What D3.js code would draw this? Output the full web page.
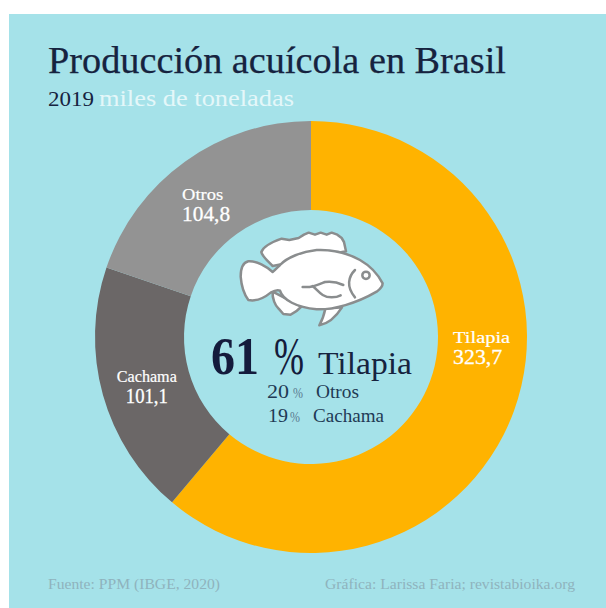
<!DOCTYPE html>
<html>
<head>
<meta charset="utf-8">
<script src="https://cdn.jsdelivr.net/npm/d3@7"></script>
<style>
  html, body { margin: 0; padding: 0; background: #fff; }
  svg { display: block; }
  text { font-family: "Liberation Serif", serif; }
</style>
</head>
<body>
<svg id="chart" width="606" height="608"></svg>
<script>
// Aquaculture output in Brazil, 2019 (thousand tonnes)
const categories = ["Tilapia", "Cachama", "Otros"];
const values = [323.7, 101.1, 104.8];
const valueLabels = ["323,7", "101,1", "104,8"];
const colors = ["#ffb300", "#6b6767", "#939393"];
const shareLabels = ["61 %", "20 %", "19 %"];

const width = 606, height = 608;
const cx = 311, cy = 337, outer = 216, inner = 127;
const ink = "#16233f", bg = "#a5e2e9", note = "#8fb3bd";

const svg = d3.select("#chart");
svg.append("rect").attr("x", 9).attr("y", 14)
  .attr("width", width - 9).attr("height", height - 14).attr("fill", bg);

// Helper: text stretched to a known width, since the headline face is a wide serif
function label(x, y, str, size, fill, opts = {}) {
  const t = svg.append("text").attr("x", x).attr("y", y).text(str)
    .attr("font-size", size).attr("fill", fill)
    .attr("text-anchor", opts.anchor || "start");
  if (opts.weight) t.attr("font-weight", opts.weight);
  if (opts.len) t.attr("textLength", opts.len).attr("lengthAdjust", "spacingAndGlyphs");
  if (opts.stroke) t.attr("stroke", fill).attr("stroke-width", opts.stroke);
  return t;
}

label(48, 73, "Producción acuícola en Brasil", 38, ink, { len: 458, stroke: 0.25 });
label(48, 106, "2019", 22, ink, { len: 46 });
label(99, 106, "miles de toneladas", 23, "#e4f7f9", { len: 195 });

// Donut, clockwise from twelve o'clock in the order of the arrays
const pie = d3.pie().sort(null).value(d => d)(values);
const arc = d3.arc().innerRadius(inner).outerRadius(outer);
const ring = svg.append("g").attr("transform", `translate(${cx},${cy})`);
ring.selectAll("path").data(pie).join("path")
  .attr("d", arc)
  .attr("fill", (d, i) => colors[i]);

// Slice captions: placed off each band's centroid, name above value
const captionOffset = [[9.5, -53], [1, -1], [-8.5, 2.5]];
const captionWidth = [[57, 49], [60, 42], [41, 48]];
pie.forEach((d, i) => {
  const [mx, my] = arc.centroid(d);
  const x = cx + mx + captionOffset[i][0], y = cy + my + captionOffset[i][1];
  const left = x - captionWidth[i][0] / 2;
  // Tilapia and Otros are flush left; Cachama is centred over its value
  const valueLeft = i === 1 ? x - captionWidth[i][1] / 2 : left;
  label(left, y, categories[i], 16, "#ffffff", { len: captionWidth[i][0], stroke: 0.2 });
  label(valueLeft, y + 21, valueLabels[i], 21, "#ffffff", { len: captionWidth[i][1], stroke: 0.3 });
});

// Fish emblem in the hole of the donut
const fish = svg.append("g")
  .attr("transform", "translate(200,220) scale(0.3333)")
  .attr("stroke", "#8a8d8e").attr("stroke-width", 7.5)
  .attr("stroke-linejoin", "round").attr("stroke-linecap", "round");
const fishShapes = [
  "M218,138 C200,120 186,108 184,96 C190,80 210,68 245,56 L268,60 L296,54 L312,44 L326,38 L345,44 L362,38 L380,44 L395,38 L412,44 L425,54 L432,66 L438,94 Z",
  "M218,215 C216,235 226,258 236,266 L250,282 L272,284 C285,278 295,270 304,260 Z",
  "M376,266 C372,285 366,302 358,316 C378,312 405,295 426,262 Z",
  "M548,190 C535,165 515,140 480,120 C440,98 395,88 350,90 C305,95 262,112 240,135 C230,145 224,152 218,156 C200,140 170,122 145,124 C128,128 122,145 122,170 C124,195 130,220 145,240 C170,245 195,232 212,218 C222,212 232,208 240,212 C248,240 290,262 350,268 C400,270 470,250 530,215 C540,208 548,200 548,190 Z"
];
fish.selectAll("path.shape").data(fishShapes).join("path")
  .attr("class", "shape").attr("d", d => d).attr("fill", "#ffffff");
const fishLines = [
  "M465,150 C445,170 438,200 465,232",
  "M308,201 C335,203 350,196 375,186 C395,183 415,188 430,195",
  "M338,198 C355,212 365,232 395,232 C405,232 415,230 422,226"
];
fish.selectAll("path.line").data(fishLines).join("path")
  .attr("class", "line").attr("d", d => d).attr("fill", "none");
fish.append("circle").attr("cx", 498).attr("cy", 166).attr("r", 11).attr("fill", "#ffffff");

// Share read-out under the fish
const [bigNum, pct] = shareLabels[0].split(" ");
label(211, 374, bigNum, 53, "#141b3c", { weight: "bold", len: 48 });
label(274, 374, pct, 52, "#141b3c", { len: 30 });
label(318, 374, categories[0], 32, ink, { len: 94 });
label(267, 398, shareLabels[1].split(" ")[0], 18, "#1f3a55", { len: 22 });
label(293, 398, pct, 14, "#5a7a8f", { len: 10 });
label(316, 398, categories[2], 18.5, "#1f3a55", { len: 43 });
label(268, 422, shareLabels[2].split(" ")[0], 18, "#1f3a55", { len: 20 });
label(290, 422, pct, 14, "#5a7a8f", { len: 10 });
label(313, 422, categories[1], 18.5, "#1f3a55", { len: 71 });

// Source and credit
label(48, 589, "Fuente: PPM (IBGE, 2020)", 15, note, { len: 172 });
label(325, 589, "Gráfica: Larissa Faria; revistabioika.org", 15, note, { len: 250 });
</script>
</body>
</html>
